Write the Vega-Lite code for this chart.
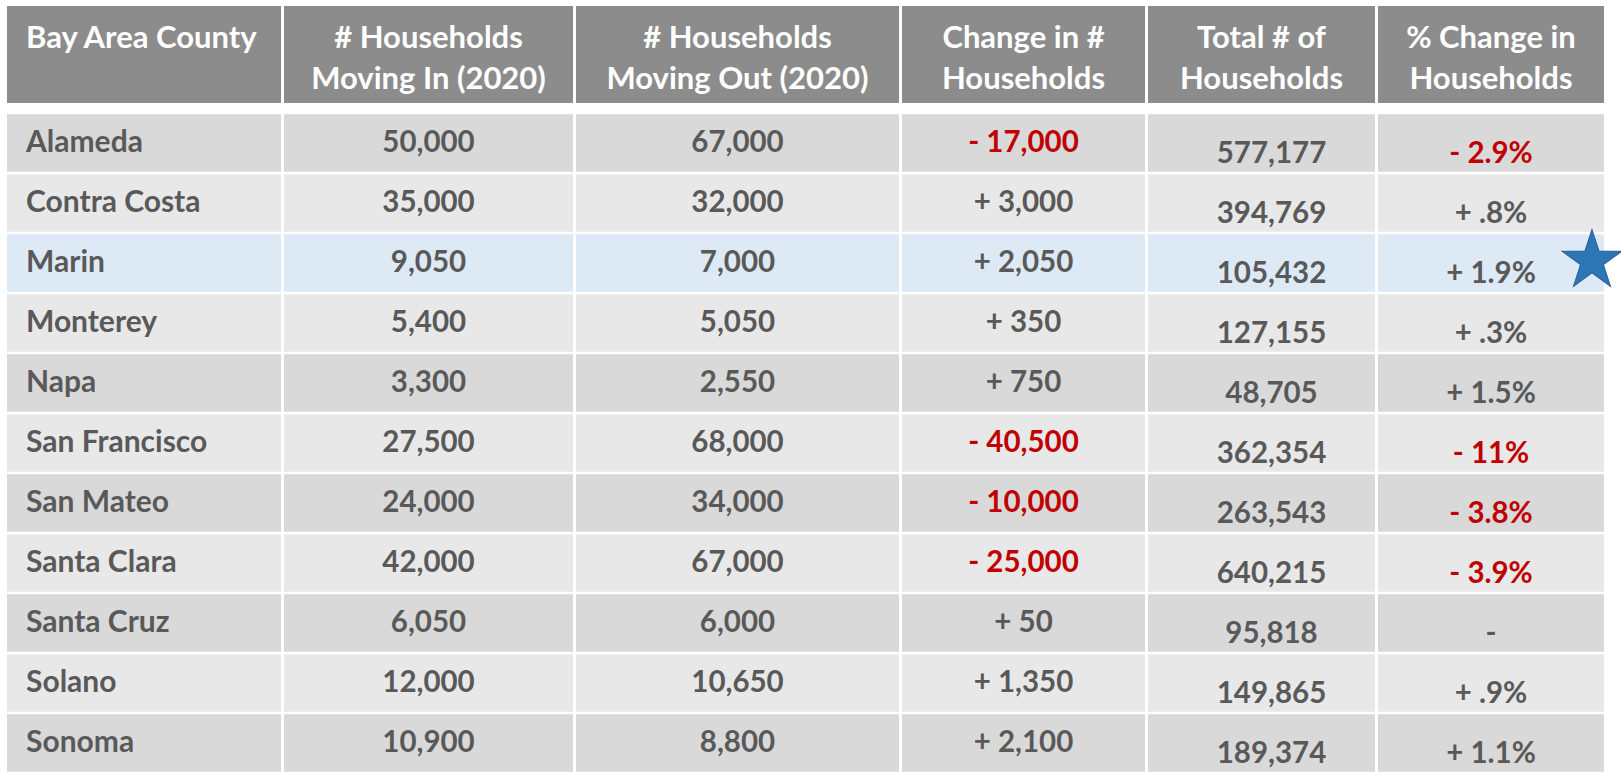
{
  "$schema": "https://vega.github.io/schema/vega-lite/v6.json",
  "background": "white",
  "padding": {"left": 7, "top": 6, "right": 0, "bottom": 0},
  "config": {"view": {"stroke": null}},
  "datasets": {
    "table": [
      {"county": "Alameda", "moving_in": 50000, "moving_out": 67000, "change": "- 17,000", "total": 577177, "pct": "- 2.9%"},
      {"county": "Contra Costa", "moving_in": 35000, "moving_out": 32000, "change": "+ 3,000", "total": 394769, "pct": "+ .8%"},
      {"county": "Marin", "moving_in": 9050, "moving_out": 7000, "change": "+ 2,050", "total": 105432, "pct": "+ 1.9%", "starred": true},
      {"county": "Monterey", "moving_in": 5400, "moving_out": 5050, "change": "+ 350", "total": 127155, "pct": "+ .3%"},
      {"county": "Napa", "moving_in": 3300, "moving_out": 2550, "change": "+ 750", "total": 48705, "pct": "+ 1.5%"},
      {"county": "San Francisco", "moving_in": 27500, "moving_out": 68000, "change": "- 40,500", "total": 362354, "pct": "- 11%"},
      {"county": "San Mateo", "moving_in": 24000, "moving_out": 34000, "change": "- 10,000", "total": 263543, "pct": "- 3.8%"},
      {"county": "Santa Clara", "moving_in": 42000, "moving_out": 67000, "change": "- 25,000", "total": 640215, "pct": "- 3.9%"},
      {"county": "Santa Cruz", "moving_in": 6050, "moving_out": 6000, "change": "+ 50", "total": 95818, "pct": "-"},
      {"county": "Solano", "moving_in": 12000, "moving_out": 10650, "change": "+ 1,350", "total": 149865, "pct": "+ .9%"},
      {"county": "Sonoma", "moving_in": 10900, "moving_out": 8800, "change": "+ 2,100", "total": 189374, "pct": "+ 1.1%"}
    ]
  },
  "vconcat": [
    {
      "hconcat": [
        {"width": 274, "height": 97, "view": {"fill": "#8C8C8C", "stroke": null},
         "data": {"values": [{"label": "Bay Area County"}]},
         "mark": {"type": "text", "align": "left", "baseline": "middle", "dx": -118, "dy": -16, "fontSize": 31, "font": "Lato", "fontWeight": "bold", "fill": "white"},
         "encoding": {"text": {"field": "label", "type": "nominal"}}},
        {"width": 289, "height": 97, "view": {"fill": "#8C8C8C", "stroke": null},
         "data": {"values": [{"label": "# Households\nMoving In (2020)"}]},
         "mark": {"type": "text", "align": "center", "baseline": "middle", "dy": -16, "lineBreak": "\n", "lineHeight": 41, "fontSize": 31, "font": "Lato", "fontWeight": "bold", "fill": "white"},
         "encoding": {"text": {"field": "label", "type": "nominal"}}},
        {"width": 323, "height": 97, "view": {"fill": "#8C8C8C", "stroke": null},
         "data": {"values": [{"label": "# Households\nMoving Out (2020)"}]},
         "mark": {"type": "text", "align": "center", "baseline": "middle", "dy": -16, "lineBreak": "\n", "lineHeight": 41, "fontSize": 31, "font": "Lato", "fontWeight": "bold", "fill": "white"},
         "encoding": {"text": {"field": "label", "type": "nominal"}}},
        {"width": 243, "height": 97, "view": {"fill": "#8C8C8C", "stroke": null},
         "data": {"values": [{"label": "Change in #\nHouseholds"}]},
         "mark": {"type": "text", "align": "center", "baseline": "middle", "dy": -16, "lineBreak": "\n", "lineHeight": 41, "fontSize": 31, "font": "Lato", "fontWeight": "bold", "fill": "white"},
         "encoding": {"text": {"field": "label", "type": "nominal"}}},
        {"width": 227, "height": 97, "view": {"fill": "#8C8C8C", "stroke": null},
         "data": {"values": [{"label": "Total # of\nHouseholds"}]},
         "mark": {"type": "text", "align": "center", "baseline": "middle", "dy": -16, "lineBreak": "\n", "lineHeight": 41, "fontSize": 31, "font": "Lato", "fontWeight": "bold", "fill": "white"},
         "encoding": {"text": {"field": "label", "type": "nominal"}}},
        {"width": 226, "height": 97, "view": {"fill": "#8C8C8C", "stroke": null},
         "data": {"values": [{"label": "% Change in\nHouseholds"}]},
         "mark": {"type": "text", "align": "center", "baseline": "middle", "dy": -16, "lineBreak": "\n", "lineHeight": 41, "fontSize": 31, "font": "Lato", "fontWeight": "bold", "fill": "white"},
         "encoding": {"text": {"field": "label", "type": "nominal"}}}
      ],
      "spacing": 3
    },
    {
      "hconcat": [
        {"width": 274, "height": 660, "data": {"name": "table"},
         "transform": [{"window": [{"op": "row_number", "as": "rn"}]}],
         "encoding": {"y": {"field": "county", "type": "nominal", "sort": null, "axis": null, "scale": {"paddingInner": 0.043, "paddingOuter": 0.02}}},
         "layer": [
           {"mark": {"type": "rect"},
            "encoding": {"fill": {"condition": [{"test": "datum.starred === true", "value": "#DDEAF6"}, {"test": "datum.rn % 2 === 1", "value": "#D9D9D9"}], "value": "#E8E8E8"}}},
           {"mark": {"type": "text", "align": "left", "baseline": "middle", "dx": -118, "fill": "#595959", "fontSize": 30, "font": "Lato", "fontWeight": "bold"},
            "encoding": {"text": {"field": "county", "type": "nominal"}}}
         ]},
        {"width": 289, "height": 660, "data": {"name": "table"},
         "transform": [{"window": [{"op": "row_number", "as": "rn"}]}],
         "encoding": {"y": {"field": "county", "type": "nominal", "sort": null, "axis": null, "scale": {"paddingInner": 0.043, "paddingOuter": 0.02}}},
         "layer": [
           {"mark": {"type": "rect"},
            "encoding": {"fill": {"condition": [{"test": "datum.starred === true", "value": "#DDEAF6"}, {"test": "datum.rn % 2 === 1", "value": "#D9D9D9"}], "value": "#E8E8E8"}}},
           {"mark": {"type": "text", "align": "center", "baseline": "middle", "fill": "#595959", "fontSize": 29.5, "font": "Lato", "fontWeight": "bold"},
            "encoding": {"text": {"field": "moving_in", "type": "quantitative", "format": ","}}}
         ]},
        {"width": 323, "height": 660, "data": {"name": "table"},
         "transform": [{"window": [{"op": "row_number", "as": "rn"}]}],
         "encoding": {"y": {"field": "county", "type": "nominal", "sort": null, "axis": null, "scale": {"paddingInner": 0.043, "paddingOuter": 0.02}}},
         "layer": [
           {"mark": {"type": "rect"},
            "encoding": {"fill": {"condition": [{"test": "datum.starred === true", "value": "#DDEAF6"}, {"test": "datum.rn % 2 === 1", "value": "#D9D9D9"}], "value": "#E8E8E8"}}},
           {"mark": {"type": "text", "align": "center", "baseline": "middle", "fill": "#595959", "fontSize": 29.5, "font": "Lato", "fontWeight": "bold"},
            "encoding": {"text": {"field": "moving_out", "type": "quantitative", "format": ","}}}
         ]},
        {"width": 243, "height": 660, "data": {"name": "table"},
         "transform": [{"window": [{"op": "row_number", "as": "rn"}]}],
         "encoding": {"y": {"field": "county", "type": "nominal", "sort": null, "axis": null, "scale": {"paddingInner": 0.043, "paddingOuter": 0.02}}},
         "layer": [
           {"mark": {"type": "rect"},
            "encoding": {"fill": {"condition": [{"test": "datum.starred === true", "value": "#DDEAF6"}, {"test": "datum.rn % 2 === 1", "value": "#D9D9D9"}], "value": "#E8E8E8"}}},
           {"mark": {"type": "text", "align": "center", "baseline": "middle", "fontSize": 29.5, "font": "Lato", "fontWeight": "bold"},
            "encoding": {"text": {"field": "change", "type": "nominal"},
                         "fill": {"condition": {"test": "indexof(datum.change, '-') === 0", "value": "#C00000"}, "value": "#595959"}}}
         ]},
        {"width": 227, "height": 660, "data": {"name": "table"},
         "transform": [{"window": [{"op": "row_number", "as": "rn"}]}],
         "encoding": {"y": {"field": "county", "type": "nominal", "sort": null, "axis": null, "scale": {"paddingInner": 0.043, "paddingOuter": 0.02}}},
         "layer": [
           {"mark": {"type": "rect"},
            "encoding": {"fill": {"condition": [{"test": "datum.starred === true", "value": "#DDEAF6"}, {"test": "datum.rn % 2 === 1", "value": "#D9D9D9"}], "value": "#E8E8E8"}}},
           {"mark": {"type": "text", "align": "center", "baseline": "middle", "dx": 10, "dy": 11, "fill": "#595959", "fontSize": 29.5, "font": "Lato", "fontWeight": "bold"},
            "encoding": {"text": {"field": "total", "type": "quantitative", "format": ","}}}
         ]},
        {"width": 226, "height": 660, "data": {"name": "table"},
         "transform": [{"window": [{"op": "row_number", "as": "rn"}]}],
         "encoding": {"y": {"field": "county", "type": "nominal", "sort": null, "axis": null, "scale": {"paddingInner": 0.043, "paddingOuter": 0.02}}},
         "layer": [
           {"mark": {"type": "rect"},
            "encoding": {"fill": {"condition": [{"test": "datum.starred === true", "value": "#DDEAF6"}, {"test": "datum.rn % 2 === 1", "value": "#D9D9D9"}], "value": "#E8E8E8"}}},
           {"mark": {"type": "text", "align": "center", "baseline": "middle", "dy": 11, "fontSize": 29.5, "font": "Lato", "fontWeight": "bold"},
            "encoding": {"text": {"field": "pct", "type": "nominal"},
                         "fill": {"condition": {"test": "indexof(datum.change, '-') === 0", "value": "#C00000"}, "value": "#595959"}}},
           {"mark": {"type": "text", "align": "center", "baseline": "middle", "dx": 101, "dy": 0, "fontSize": 78, "font": "DejaVu Sans", "fill": "#2E75B6", "stroke": "#2F5F98", "strokeWidth": 1},
            "encoding": {"text": {"condition": {"test": "datum.starred === true", "value": "★"}, "value": ""}}}
         ]}
      ],
      "spacing": 3
    }
  ],
  "spacing": 0
}
